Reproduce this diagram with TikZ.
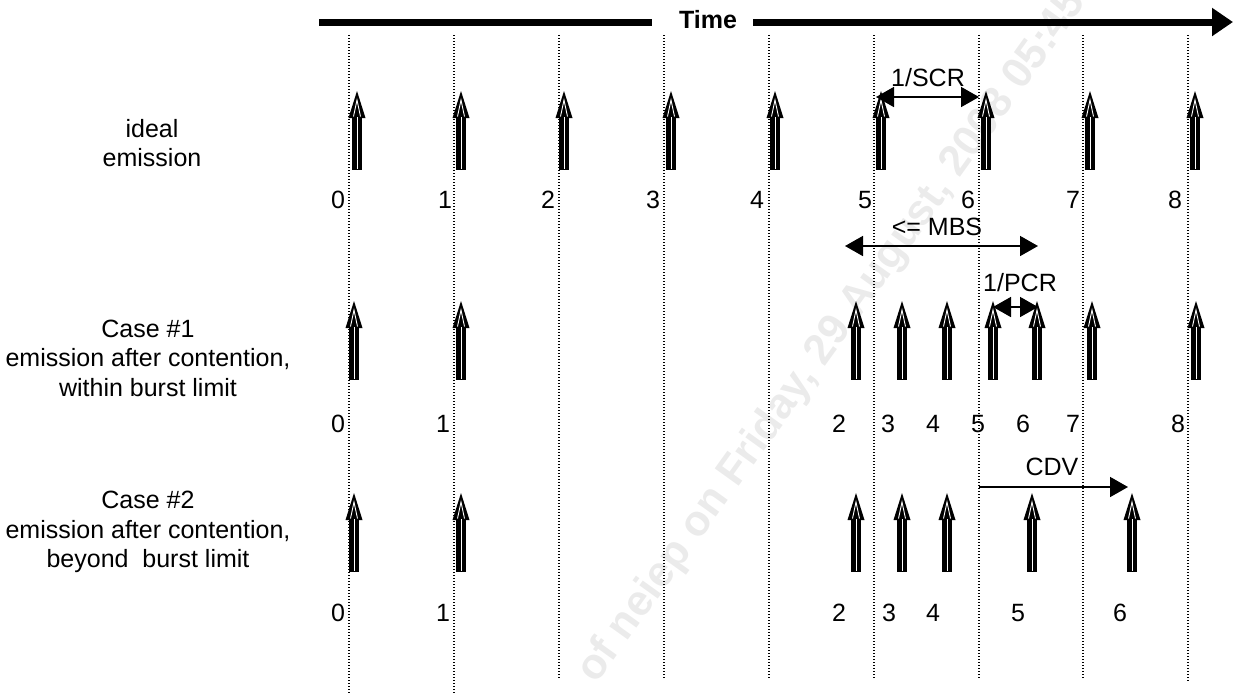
\documentclass[tikz,border=0pt]{standalone}
\usepackage{fontspec}
\setmainfont{Liberation Sans}
\usetikzlibrary{arrows.meta}
\tikzset{
  lbl/.style={font=\fontsize{12.5}{14.8}\selectfont, inner sep=0pt},
  side/.style={lbl, align=center},
  dim/.style={line width=0.85pt, {Triangle[length=9pt,width=10pt]}-{Triangle[length=9pt,width=10pt]}},
  onedim/.style={line width=0.85pt, -{Triangle[length=9pt,width=10pt]}},
  vline/.style={line width=0.6pt, dash pattern=on 0.6pt off 0.9pt},
  emit/.pic={
    \fill (-4.8,0) rectangle (4.8,-52);
    \fill (-8.5,-52) -- (0,-79) -- (8.5,-52) -- cycle;
    \draw[white,line width=0.45pt] (0,-1.5) -- (0,-53);
    \draw[white,line width=0.45pt] (-3.5,-53.5) -- (0,-70) -- (3.5,-53.5);
  }
}
\begin{document}
\begin{tikzpicture}[x=0.5pt,y=-0.5pt]
\path[use as bounding box] (0,0) rectangle (1233,693);
\begin{scope}
\clip (0,0) rectangle (1233,693);
\node[rotate=54.3, anchor=base west, text=black!8, inner sep=0pt,
      font=\fontsize{21.5}{21.5}\selectfont\bfseries] (wm) at (596,685)
  {of neiep on Friday, 29 August, 2008 05:45};
\end{scope}

% dotted time grid
\foreach \x/\b in {349/693,454/693,559/679,664/679,769/679,874/679,979/679,1083/679,1188/681}
  \draw[vline] (\x,35) -- (\x,\b);

% time axis
\coordinate (tl) at (319,22);
\coordinate (ta) at (652,22);
\coordinate (tb) at (753,22);
\coordinate (tr) at (1233,22);
\node[lbl, font=\fontsize{12.5}{14.8}\selectfont\bfseries] (time) at (708,20) {Time};
\draw[line width=3.5pt] (tl) -- (ta);
\draw[line width=3.5pt, -{Triangle[length=10.5pt,width=13.5pt]}] (tb) -- (tr);

% side labels
\node[side] (l1) at (152,143) {ideal\\emission};
\node[side] (l2) at (148,358) {Case \#1\\emission after contention,\\within burst limit};
\node[side] (l3) at (148,532) {Case \#2\\emission after contention,\\beyond~\ burst limit};

% row 1: ideal emission
\foreach \x in {357,461,564,671,775,881,986,1090,1195}
  \pic at (\x,170) {emit};
\foreach \x/\t in {338/0,445/1,548/2,653/3,757/4,865/5,968/6,1073/7,1175/8}
  \node[lbl] at (\x,200) {\t};

% row 2: case 1
\foreach \x in {354,461,856,902,947,993,1037,1092,1196}
  \pic at (\x,380) {emit};
\foreach \x/\t in {338/0,443/1,839/2,888/3,933/4,978/5,1023/6,1073/7,1178/8}
  \node[lbl] at (\x,424) {\t};

% row 3: case 2
\foreach \x in {354,461,856,902,947,1032,1132}
  \pic at (\x,572) {emit};
\foreach \x/\t in {338/0,443/1,839/2,889/3,933/4,1018/5,1120/6}
  \node[lbl] at (\x,613) {\t};

% 1/SCR
\coordinate (s1) at (876,97);
\coordinate (s2) at (979,97);
\draw[dim] (s1) -- (s2);
\node[lbl] (scr) at (928,78) {1/SCR};

% MBS
\coordinate (m1) at (845,246);
\coordinate (m2) at (1038,246);
\draw[dim] (m1) -- (m2);
\node[lbl] (mbs) at (937,227) {<= MBS};

% 1/PCR
\coordinate (p1) at (993,307);
\coordinate (p2) at (1038,307);
\draw[dim] (p1) -- (p2);
\node[lbl] (pcr) at (1020,283) {1/PCR};

% CDV
\coordinate (c1) at (979,487);
\coordinate (c2) at (1128,487);
\draw[onedim] (c1) -- (c2);
\node[lbl] (cdv) at (1052,467) {CDV};
\end{tikzpicture}
\end{document}
